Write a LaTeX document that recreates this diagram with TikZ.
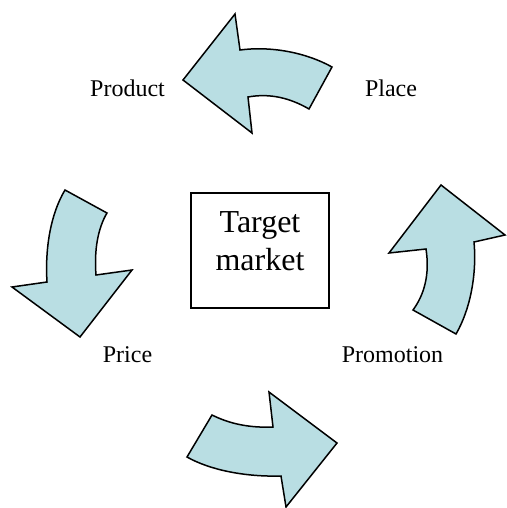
\documentclass[tikz,border=0pt]{standalone}
\usepackage{fontspec}
\setmainfont{Liberation Serif}
\definecolor{arrowfill}{RGB}{185,222,227}

\begin{document}
\begin{tikzpicture}[x=1pt, y=-1pt,
	bigarrow/.style={fill=arrowfill, draw=black, line width=1.5pt, line join=miter},
	mixlabel/.style={font=\fontsize{24}{28}\selectfont, anchor=base, inner sep=0pt},
	targetbox/.style={shape=rectangle, draw=black, line width=1.5pt, minimum width=138pt, minimum height=115pt}]
	\useasboundingbox (0,0) rectangle (506,508);

	\node[targetbox] (target) at (260,250.5) {};
	\node[align=center, inner sep=0pt, font=\fontsize{32}{38}\selectfont] (targettext) at (260,241.5) {Target\\market};

	\node[mixlabel] (product) at (127.5,97) {Product};
	\node[mixlabel] (place) at (391,97) {Place};
	\node[mixlabel] (price) at (127.5,362) {Price};
	\node[mixlabel] (promotion) at (392.5,362) {Promotion};

	% top
	\path[bigarrow] (183,80) -- (235,14) -- (240,50) .. controls (270,46) and (305,52) .. (332,67) -- (309,109) .. controls (290,98) and (270,93) .. (248,97) -- (252,133) -- cycle;
	% left
	\path[bigarrow] (65,190) -- (107,213) .. controls (98,228) and (94,250) .. (96,275) -- (132,270) -- (80,337) -- (12,287) -- (47,282) .. controls (45,250) and (50,215) .. cycle;
	% right
	\path[bigarrow] (441,185) -- (505,235) -- (474,242) .. controls (477,275) and (470,310) .. (456,334) -- (413,310) .. controls (424,295) and (430,275) .. (426,249) -- (389,253) -- cycle;
	% bottom
	\path[bigarrow] (337,443) -- (286,507) -- (281,476) .. controls (245,477) and (210,470) .. (187,457) -- (212,415) .. controls (230,424) and (250,428) .. (273,427) -- (269,392) -- cycle;

\end{tikzpicture}
\end{document}
